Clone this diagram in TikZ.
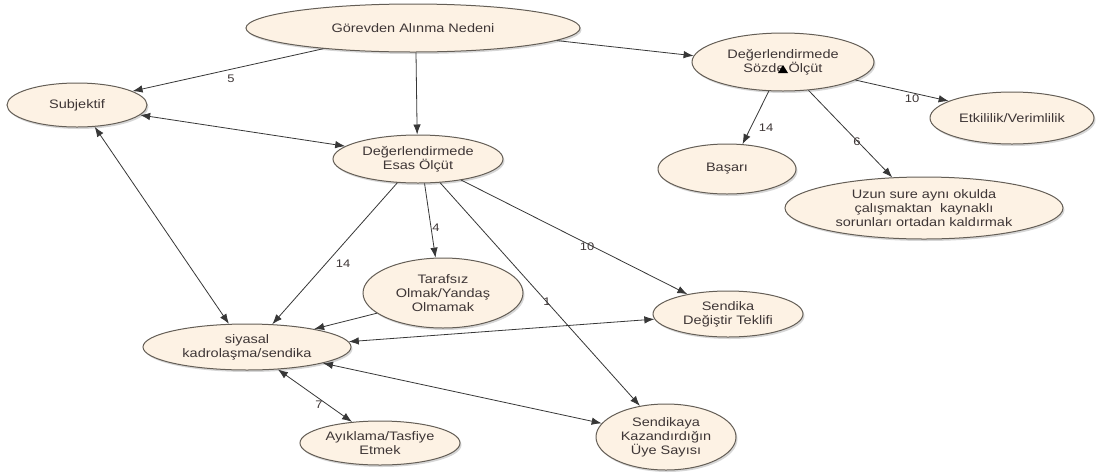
\documentclass[tikz,border=0pt]{standalone}
\usepackage{fontspec}
\setmainfont{Liberation Sans}[FakeStretch=1.18]
\usetikzlibrary{shapes.geometric,arrows.meta,shadows}
\definecolor{nodefill}{RGB}{253,242,228}
\definecolor{nodeline}{RGB}{100,94,86}
\definecolor{txt}{RGB}{62,54,54}
\definecolor{edgec}{RGB}{55,55,55}
\begin{document}
\begin{tikzpicture}[x=1pt,y=-1pt,
  el/.style={ellipse, draw=nodeline, line width=1pt, fill=nodefill, inner sep=0pt, align=center, text=txt,
    font=\fontsize{12.3}{14}\selectfont,
    drop shadow={shadow xshift=1.5pt, shadow yshift=-2pt, fill=black, opacity=0.16}},
  con/.style={draw=edgec, line width=0.8pt, -{Latex[length=10pt,width=7.5pt]}},
  bicon/.style={draw=edgec, line width=0.8pt, {Latex[length=10pt,width=7.5pt]}-{Latex[length=10pt,width=7.5pt]}},
  lbl/.style={font=\fontsize{11}{12}\selectfont, text=txt, inner sep=0pt}]
\useasboundingbox[fill=white] (0,0) rectangle (1096,475);

\node[el, minimum width=334pt, minimum height=48pt] (gor) at (413,28) {Görevden Alınma Nedeni};
\node[el, minimum width=182pt, minimum height=58pt] (sozde) at (783,62) {Değerlendirmede\\Sözde Ölçüt};
\node[el, minimum width=140pt, minimum height=44pt] (subj) at (77,105) {Subjektif};
\node[el, minimum width=170pt, minimum height=48pt] (esas) at (418,159) {Değerlendirmede\\Esas Ölçüt};
\node[el, minimum width=164pt, minimum height=52pt] (etk) at (1012,118) {Etkililik/Verimlilik};
\node[el, minimum width=138pt, minimum height=50pt] (bas) at (727,169) {Başarı};
\node[el, minimum width=278pt, minimum height=62pt] (uzun) at (924,208) {Uzun sure aynı okulda\\çalışmaktan\ \ kaynaklı\\sorunları ortadan kaldırmak};
\node[el, minimum width=160pt, minimum height=70pt] (taraf) at (443,293) {Tarafsız\\Olmak/Yandaş\\Olmamak};
\node[el, minimum width=150pt, minimum height=46pt] (sdt) at (728,314) {Sendika\\Değiştir Teklifi};
\node[el, minimum width=140pt, minimum height=66pt] (sky) at (666,437) {Sendikaya\\Kazandırdığın\\Üye Sayısı};
\node[el, minimum width=208pt, minimum height=46pt] (siy) at (247,347) {siyasal\\kadrolaşma/sendika};
\node[el, minimum width=160pt, minimum height=44pt] (ayk) at (380,443) {Ayıklama/Tasfiye\\Etmek};

\fill[black] (778,73) -- (788,73) -- (783,65) -- cycle;

\draw[con] (gor.193) -- (subj.14);
\draw[con] (gor.277) -- (esas.92);
\draw[con] (gor.355) -- (sozde.176);
\draw[bicon] (subj.351) -- (esas.170);
\draw[bicon] (subj.309) -- (siy.128);
\draw[con] (esas.229) -- (siy.42);
\draw[con] (esas.285) -- (taraf.102);
\draw[con] (esas.313) -- (sky.130);
\draw[con] (esas.334) -- (sdt.154);
\draw[con] (taraf.197) -- (siy.15);
\draw[bicon] (siy.3) -- (sdt.184);
\draw[bicon] (siy.348) -- (sky.168);
\draw[bicon] (siy.324) -- (ayk.143);
\draw[con] (sozde.244) -- (bas.58);
\draw[con] (sozde.312) -- (uzun.136);
\draw[con] (sozde.346) -- (etk.165);

\node[lbl] (l5) at (231,79) {5};
\node[lbl] (l14a) at (343,264) {14};
\node[lbl] (l4) at (436,228) {4};
\node[lbl] (l1) at (547,302) {1};
\node[lbl] (l10a) at (587,247) {10};
\node[lbl] (l7) at (319,405) {7};
\node[lbl] (l14b) at (766,128) {14};
\node[lbl] (l6) at (857,142) {6};
\node[lbl] (l10b) at (912,99) {10};
\end{tikzpicture}
\end{document}
